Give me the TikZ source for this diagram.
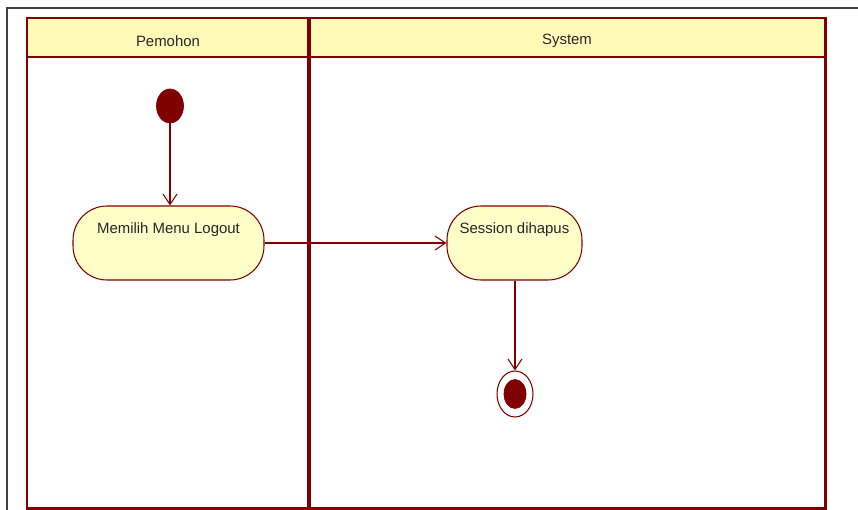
\documentclass[tikz,border=0pt]{standalone}
\usepackage{fontspec}
\setmainfont{Liberation Sans}
\usetikzlibrary{shapes.geometric,arrows.meta,positioning}

\definecolor{lanered}{HTML}{800000}
\definecolor{headfill}{HTML}{FFFAB8}
\definecolor{actfill}{HTML}{FFFDC8}

\begin{document}
\begin{tikzpicture}[
    x=0.02cm, y=-0.02cm,
    lane/.style={draw=lanered, line width=1.7pt},
    lanetitle/.style={font=\fontsize{8.5}{10}\selectfont, text=black!85},
    activity/.style={draw=lanered, fill=actfill, line width=0.6pt, rounded corners=0.68cm,
        minimum height=1.48cm, align=center, font=\fontsize{8.5}{10}\selectfont, text=black!85},
    startnode/.style={ellipse, fill=lanered, draw=lanered, inner sep=0pt},
    flow/.style={draw=lanered, line width=0.6pt, -{Straight Barb[length=6pt,width=8pt]}}
]
\useasboundingbox (0,0) rectangle (858,510);

% page frame
\draw[black!75, line width=0.6pt] (7,510) -- (7,8) -- (858,8);

% swimlanes
\fill[headfill] (27,18) rectangle (825,57);
\draw[lane] (27,508) -- (27,18) -- (825,18) -- (825,508) -- cycle;
\draw[lane] (27,57) -- (825,57);
\draw[draw=lanered, line width=2.3pt] (309,18) -- (309,508);
\node (pemohon) [lanetitle] at (168,41) {Pemohon};
\node (system) [lanetitle] at (567,41) {System};

% nodes
\node (start) [startnode, minimum width=0.54cm, minimum height=0.68cm] at (170,106) {};
\node (memilih) [activity, minimum width=3.82cm] at (168.5,243) {Memilih Menu Logout\\[7pt]\mbox{}};
\node (session) [activity, minimum width=2.7cm] at (514.5,243) {Session dihapus\\[7pt]\mbox{}};
\node (final) [ellipse, draw=lanered, line width=0.6pt, inner sep=0pt,
    minimum width=0.72cm, minimum height=0.92cm] at (515,394) {};
\node (finaldot) [startnode, minimum width=0.44cm, minimum height=0.58cm] at (final) {};

% flows
\draw [flow] (start) -- (start |- memilih.north);
\draw [flow] (memilih) -- (session);
\draw [flow] (session.south -| final) -- (final);

\end{tikzpicture}
\end{document}
